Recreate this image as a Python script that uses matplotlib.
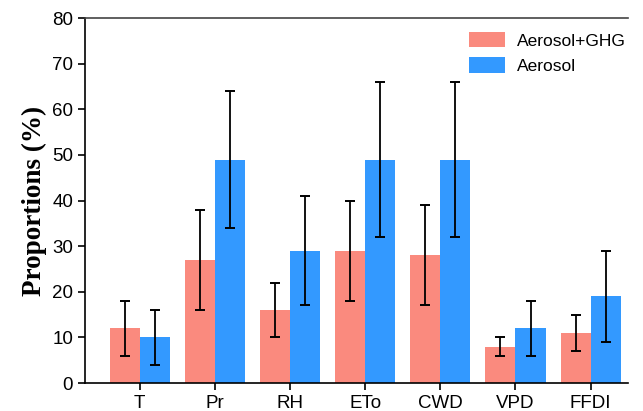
import matplotlib
matplotlib.use('Agg')
import matplotlib.pyplot as plt
import numpy as np

# data
categories = ['T', 'Pr', 'RH', 'ETo', 'CWD', 'VPD', 'FFDI']
ghg_vals = [12, 27, 16, 29, 28, 8, 11]
ghg_low = [6, 16, 10, 18, 17, 6, 7]
ghg_high = [18, 38, 22, 40, 39, 10, 15]
aer_vals = [10, 49, 29, 49, 49, 12, 19]
aer_low = [4, 34, 17, 32, 32, 6, 9]
aer_high = [16, 64, 41, 66, 66, 18, 29]

plt.rcParams['font.family'] = ['Liberation Sans', 'DejaVu Sans']

fig = plt.figure(figsize=(6.43, 4.11), dpi=100)
ax = fig.add_axes([0.132, 0.068, 0.845, 0.888])

x = np.arange(len(categories))
w = 0.4
ghg = np.array(ghg_vals)
aer = np.array(aer_vals)
ghg_err = [ghg - np.array(ghg_low), np.array(ghg_high) - ghg]
aer_err = [aer - np.array(aer_low), np.array(aer_high) - aer]

ebk = dict(ecolor='black', elinewidth=1.3, capthick=1.4)
ax.bar(x - w / 2, ghg, w, color='#FA8A7E', label='Aerosol+GHG',
       yerr=ghg_err, capsize=3.8, error_kw=ebk)
ax.bar(x + w / 2, aer, w, color='#3399FF', label='Aerosol',
       yerr=aer_err, capsize=3.8, error_kw=ebk)

ax.set_xlim(-0.73, 6.5)
ax.set_ylim(0, 80)
ax.set_yticks(range(0, 81, 10))
ax.set_xticks(x)
ax.set_xticklabels(categories)
ax.tick_params(axis='both', labelsize=13.5, length=5, width=1.2, direction='out')

ax.spines['right'].set_visible(False)
for s in ['left', 'bottom', 'top']:
    ax.spines[s].set_linewidth(1.2)
ax.spines['top'].set_color('#444444')

ax.set_ylabel('Proportions (%)', family='Liberation Serif', fontweight='bold',
              fontsize=19.5, labelpad=4)

ax.legend(loc='upper right', frameon=False, fontsize=12.5, handlelength=2.1,
          handleheight=1.0, handletextpad=0.7, bbox_to_anchor=(1.025, 1.005))

fig.savefig('out.png', dpi=100)
